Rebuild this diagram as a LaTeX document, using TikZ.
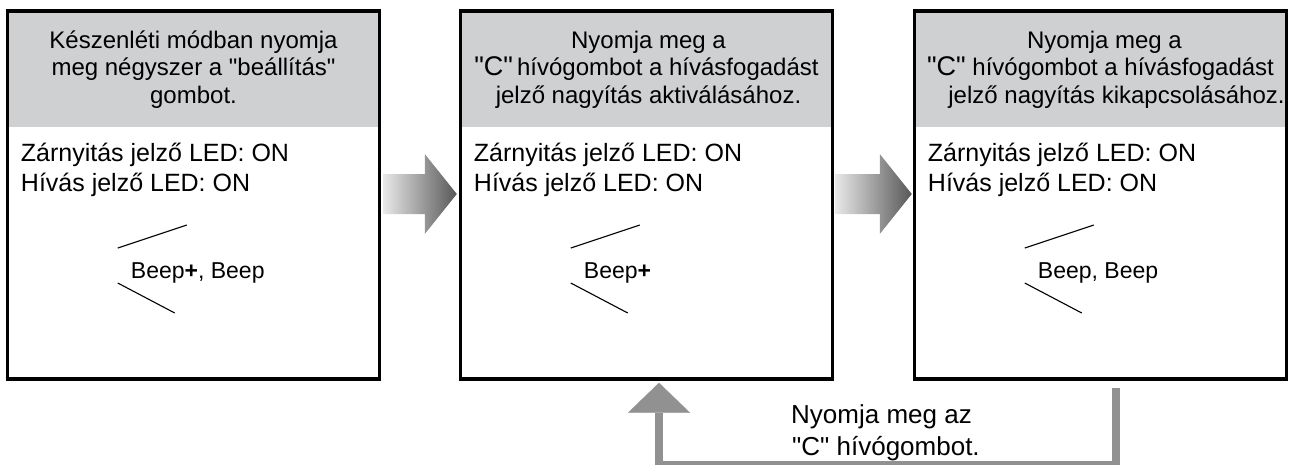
\documentclass[tikz,border=0pt]{standalone}
\usepackage{fontspec}
\setmainfont{Liberation Sans}
\newfontfamily\lsans{Liberation Sans}
\usetikzlibrary{calc,arrows.meta}
\pgfdeclarelayer{background}
\pgfsetlayers{background,main}
\definecolor{hdrgray}{RGB}{206,208,210}
\definecolor{fbgray}{RGB}{145,145,145}
\definecolor{arrlight}{RGB}{232,232,232}
\definecolor{arrdark}{RGB}{88,88,88}
\tikzset{
  box/.style={draw=black, line width=3.5pt, minimum width=372pt, minimum height=368pt, inner sep=0pt},
  hdrtext/.style={anchor=base, inner sep=0pt, font=\lsans\fontsize{24}{27}\selectfont},
  ledtext/.style={anchor=base west, inner sep=0pt, font=\lsans\fontsize{25}{29}\selectfont},
  beeptext/.style={anchor=base west, inner sep=0pt, font=\lsans\fontsize{23}{27}\selectfont},
  beepline/.style={line width=1.1pt, draw=black},
  fbline/.style={draw=fbgray, line width=8pt, -{Triangle[width=62pt,length=30pt,line width=0.1pt]}},
  lbltext/.style={anchor=base west, inner sep=0pt, font=\lsans\fontsize{26}{30}\selectfont},
  gradarrow/.style={left color=arrlight, right color=arrdark, draw=none}
}
\begin{document}
\begin{tikzpicture}[x=1pt,y=-1pt]
\useasboundingbox (0,0) rectangle (1291,464);
% boxes
\node[box] (box1) at (193.5,195) {};
\node[box] (box2) at (646.5,195) {};
\node[box] (box3) at (1100.5,195) {};
% header fills
\begin{pgfonlayer}{background}
  \foreach \bx in {box1,box2,box3}
    \fill[hdrgray] (\bx.north west) rectangle (\bx.east |- 0,127);
\end{pgfonlayer}
% header texts
\node[hdrtext] (h1a) at (box1.north |- 0,48) {Készenléti módban nyomja};
\node[hdrtext] (h1b) at (box1.north |- 0,75.5) {meg négyszer a "beállítás"};
\node[hdrtext] (h1c) at (box1.north |- 0,103) {gombot.};
\node[hdrtext] (h2a) at ($(box2.north |- 0,48)+(2,0)$) {Nyomja meg a};
\node[hdrtext] (h2b) at (box2.north |- 0,75.5) {{\fontsize{27}{27}\selectfont"C"}\hspace{4pt}hívógombot a hívásfogadást};
\node[hdrtext] (h2c) at ($(box2.north |- 0,103)+(2,0)$) {jelző nagyítás aktiválásához.};
\node[hdrtext] (h3a) at ($(box3.north |- 0,48)+(4,0)$) {Nyomja meg a};
\node[hdrtext] (h3b) at (box3.north |- 0,75.5) {{\fontsize{27}{27}\selectfont"C"} hívógombot a hívásfogadást};
\node[hdrtext] (h3c) at ($(box3.north |- 0,103)+(16,0)$) {jelző nagyítás kikapcsolásához.};
% LED texts and beep lines
\foreach \bx in {box1,box2,box3}{
  \node[ledtext] (\bx-leda) at ($(\bx.west |- 0,161)+(15,0)$) {Zárnyitás jelző LED: ON};
  \node[ledtext] (\bx-ledb) at ($(\bx.west |- 0,191)+(15,0)$) {Hívás jelző LED: ON};
  \draw[beepline] ($(\bx.west |- 0,248)+(112,0)$) -- ($(\bx.west |- 0,225)+(181,0)$);
  \draw[beepline] ($(\bx.west |- 0,283)+(112,0)$) -- ($(\bx.west |- 0,313)+(169,0)$);
}
% beep texts
\node[beeptext] (beep1) at ($(box1.west |- 0,278)+(125,0)$) {Beep\textbf{+}, Beep};
\node[beeptext] (beep2) at ($(box2.west |- 0,278)+(125,0)$) {Beep\textbf{+}};
\node[beeptext] (beep3) at ($(box3.west |- 0,278)+(125,0)$) {Beep, Beep};
% gradient arrows
\coordinate (a1s) at ($(box1.east)+(2,-1)$);
\coordinate (a1t) at ($(box2.west)+(-2,-1)$);
\coordinate (a2s) at ($(box2.east)+(1,-1)$);
\coordinate (a2t) at ($(box3.west)+(-1,-1)$);
\foreach \s/\t in {a1s/a1t,a2s/a2t}
  \shade[gradarrow] ($(\s)+(0,-20)$) -- ($(\t)+(-32,-20)$) -- ($(\t)+(-32,-40)$) -- (\t)
     -- ($(\t)+(-32,40)$) -- ($(\t)+(-32,20)$) -- ($(\s)+(0,20)$) -- cycle;
% feedback connector
\coordinate (fbA) at ($(box3.south)+(15.5,7)$);
\coordinate (fbB) at ($(box2.south)+(12.5,2)$);
\draw[fbline] (fbA) -- (fbA |- 0,464.5) -- (fbB |- 0,464.5) -- (fbB);
\node[lbltext] (fbl1) at (791,423) {Nyomja meg az};
\node[lbltext] (fbl2) at (792,455) {"C" hívógombot.};
\end{tikzpicture}
\end{document}
